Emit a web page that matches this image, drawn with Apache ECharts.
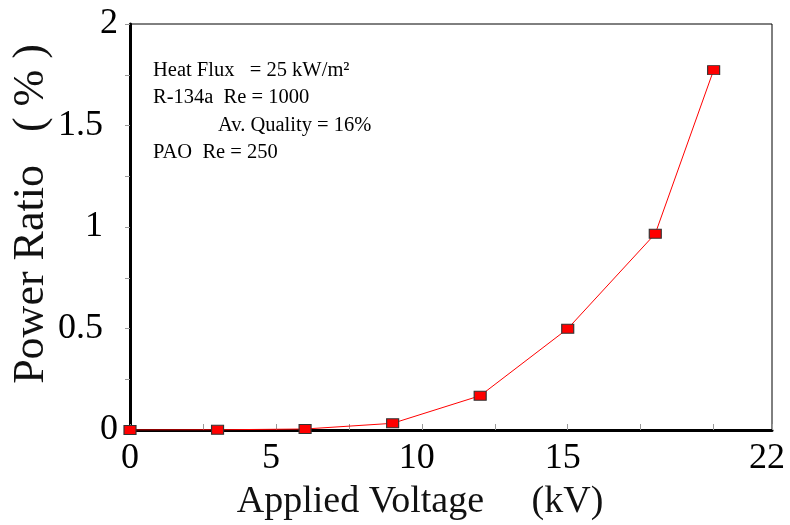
<!DOCTYPE html>
<html>
<head>
<meta charset="utf-8">
<script src="https://cdn.jsdelivr.net/npm/echarts@6/dist/echarts.min.js"></script>
<style>
html,body{margin:0;padding:0;background:#fff;}
#chart{width:790px;height:525px;}
</style>
</head>
<body>
<div id="chart"></div>
<script>
// ---- data ----
const voltage = [0, 3, 6, 9, 12, 15, 18, 20];
const powerRatio = [0, 0.001, 0.005, 0.033, 0.169, 0.499, 0.967, 1.773];
const xTickLabels = [0, 5, 10, 15, 22];
const yTickLabels = [0, 0.5, 1, 1.5, 2];
const xTitle = 'Applied Voltage     (kV)';
const yTitle = 'Power Ratio   ( % )';
const noteLines = ['Heat Flux   = 25 kW/m²', 'R-134a  Re = 1000', 'Av. Quality = 16%', 'PAO  Re = 250'];

const serif = '"Liberation Serif", "DejaVu Serif", serif';
const chart = echarts.init(document.getElementById('chart'), null, {renderer: 'canvas'});

const points = voltage.map((v, i) => [v, powerRatio[i]]);
const noteX = [153, 153, 218, 153];
const noteY = [71, 98, 126, 153];

chart.setOption({
  animation: false,
  backgroundColor: '#fff',
  grid: {left: 130, right: 18, top: 24, bottom: 95, show: true, borderColor: '#000', borderWidth: 1, backgroundColor: 'transparent'},
  xAxis: {
    type: 'value', min: 0, max: 22, interval: 2.5,
    axisLine: {show: true, lineStyle: {color: '#000', width: 3}},
    axisTick: {show: true, inside: true, length: 6, lineStyle: {color: '#999', width: 1}},
    splitLine: {show: false},
    axisLabel: {
      fontFamily: serif, fontSize: 36, color: '#000', margin: 11,
      formatter: v => {
        if (xTickLabels.indexOf(v) < 0) return '';
        return v === 0 ? '{a|0}' : '{b|' + v + '}';
      },
      rich: {
        a: {fontFamily: serif, fontSize: 36, color: '#000'},
        b: {fontFamily: serif, fontSize: 36, color: '#000', padding: [0, 10, 0, 0]}
      }
    }
  },
  yAxis: {
    type: 'value', min: 0, max: 2, interval: 0.25,
    axisLine: {show: true, lineStyle: {color: '#000', width: 3}},
    axisTick: {show: true, inside: false, length: 5, lineStyle: {color: '#999', width: 1}},
    splitLine: {show: false},
    axisLabel: {
      fontFamily: serif, fontSize: 36, color: '#000', margin: 12,
      formatter: v => {
        if (yTickLabels.indexOf(v) < 0) return '';
        return (v === 0 || v === 2) ? '{a|' + v + '}' : '{b|' + v + '}';
      },
      rich: {
        a: {fontFamily: serif, fontSize: 36, color: '#000'},
        b: {fontFamily: serif, fontSize: 36, color: '#000', padding: [0, 15, 0, 0]}
      }
    }
  },
  graphic: [
    {type: 'text', x: 420, y: 502, style: {text: xTitle, fontFamily: serif, fontSize: 38, fill: '#111', align: 'center', verticalAlign: 'middle'}},
    {type: 'text', x: 31, y: 214, rotation: Math.PI / 2, style: {text: yTitle, fontFamily: serif, fontSize: 44, fill: '#111', align: 'center', verticalAlign: 'middle'}}
  ].concat(noteLines.map((t, i) => ({
    type: 'text', x: noteX[i], y: noteY[i],
    style: {text: t, fontFamily: serif, fontSize: 20.5, fill: '#000', align: 'left', verticalAlign: 'middle'}
  }))),
  series: [{
    type: 'line',
    data: points,
    symbol: 'rect',
    symbolSize: [12, 9],
    lineStyle: {color: '#ff0000', width: 1},
    itemStyle: {color: '#ff0000', borderColor: '#333', borderWidth: 1},
    z: 5
  }]
});
</script>
</body>
</html>
